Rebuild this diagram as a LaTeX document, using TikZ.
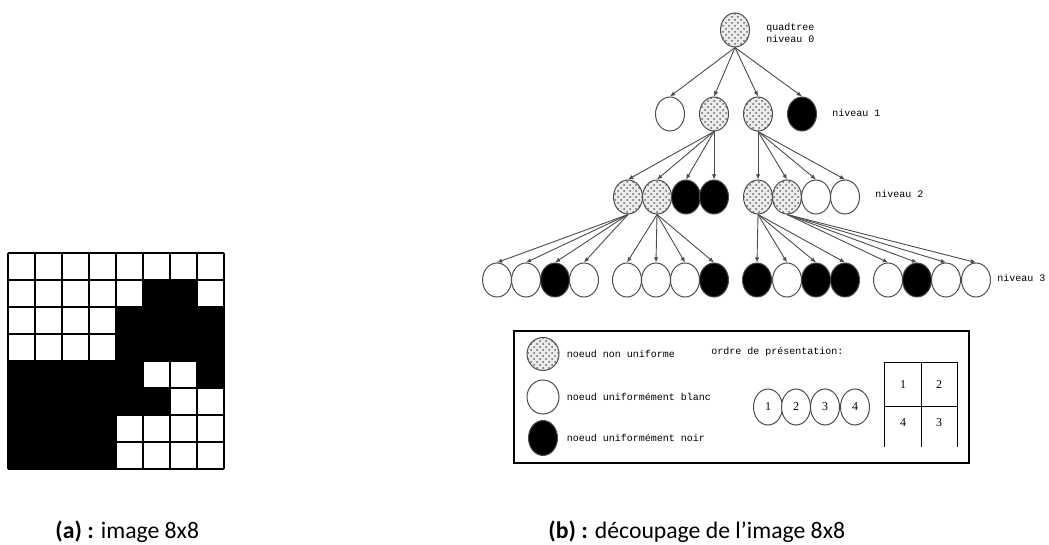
\documentclass[tikz,border=0pt]{standalone}
\usepackage{fontspec}
\setmainfont{Carlito}
\newfontfamily\courfont{Liberation Mono}
\newfontfamily\timesfont{Liberation Serif}
\usetikzlibrary{shapes,arrows,arrows.meta,positioning,patterns}

\begin{document}
\begin{tikzpicture}[x=0.5pt,y=-0.5pt,
      feuille/.style={ellipse,draw=black!70,line width=0.5pt,inner sep=0pt,
        minimum width=14.5pt,minimum height=17pt},
      nonunif/.style={feuille,preaction={fill=gray!15},pattern=crosshatch dots,
        pattern color=black!60},
      blanc/.style={feuille,fill=white},
      noir/.style={feuille,fill=black},
      fleche/.style={-{Latex[length=2.6pt,width=2.2pt]},draw=black!70,line width=0.45pt},
      etiq/.style={font=\courfont\fontsize{5}{6}\selectfont,anchor=west,inner sep=0pt,align=left},
      chiffre/.style={font=\timesfont\fontsize{6}{7}\selectfont,inner sep=0pt},
      legende/.style={font=\fontsize{11.85}{14}\selectfont,anchor=base west,inner sep=0pt}]
      \useasboundingbox (0,0) rectangle (1049,545);

      % (a) image 8x8
      \foreach \ligne [count=\i from 0] in {{0,0,0,0,0,0,0,0},{0,0,0,0,0,1,1,0},
          {0,0,0,0,1,1,1,1},{0,0,0,0,1,1,1,1},{1,1,1,1,1,0,0,1},
          {1,1,1,1,1,1,0,0},{1,1,1,1,0,0,0,0},{1,1,1,1,0,0,0,0}}
        \foreach \v [count=\j from 0] in \ligne {
          \ifnum\v=1 \fill (8+27*\j,253+27*\i) rectangle ++(27,27); \fi
        }
      \foreach \k in {0,...,8} {
        \draw[black,line width=1.1pt] (8+27*\k,253) -- (8+27*\k,469);
        \draw[black,line width=1.1pt] (8,253+27*\k) -- (224,253+27*\k);
      }

      % (b) quadtree
      \node[nonunif] (r) at (735,30) {};
      \node[etiq] (r-lab) at (766,33) {quadtree\\niveau 0};

      \foreach \x/\s [count=\i] in {670/blanc,714/nonunif,758/nonunif,802/noir}
        \node[style=\s] (n\i) at (\x,114) {};
      \foreach \i in {1,...,4}
        \draw[fleche] (r.south) -- (n\i.north);
      \node[etiq] (lab1) at (832,113) {niveau 1};

      \foreach \x/\s [count=\i] in {628/nonunif,657/nonunif,686/noir,714/noir,
          758/nonunif,787/nonunif,816/blanc,845/blanc}
        \node[style=\s] (m\i) at (\x,197) {};
      \foreach \i in {1,...,4}
        \draw[fleche] (n2.south) -- (m\i.north);
      \foreach \i in {5,...,8}
        \draw[fleche] (n3.south) -- (m\i.north);
      \node[etiq] (lab2) at (875,194) {niveau 2};

      \foreach \x/\s [count=\i] in {497/blanc,526/blanc,555/noir,584/blanc,
          627/blanc,656/blanc,685/blanc,714/noir,757/noir,787/blanc,816/noir,845/noir,
          888/blanc,917/noir,946/blanc,976/blanc}
        \node[style=\s] (f\i) at (\x,280) {};
      \foreach \p/\a/\b in {1/1/4,2/5/8,5/9/12,6/13/16}
        \foreach \i in {\a,...,\b}
          \draw[fleche] (m\p.south) -- (f\i.north);
      \node[etiq] (lab3) at (997,278) {niveau 3};

      % legende
      \draw[line width=0.8pt] (514,331) rectangle (969,463);
      \node[nonunif,minimum width=16pt,minimum height=16.5pt] (legA) at (543,354) {};
      \node[etiq,right=3.5pt of legA] (txtA) {noeud non uniforme};
      \node[blanc,minimum width=16pt,minimum height=17pt] (legB) at (543,397) {};
      \node[etiq,right=3.5pt of legB] (txtB) {noeud uniformément blanc};
      \node[noir,minimum width=14.5pt,minimum height=17.5pt] (legC) at (543,438) {};
      \node[etiq,right=4.2pt of legC] (txtC) {noeud uniformément noir};
      \node[etiq] (ordre) at (711,352) {ordre de présentation:};

      \foreach \x [count=\i] in {768,796,825,855}
        \node[blanc,chiffre,minimum width=14.5pt,minimum height=18pt] (o\i) at (\x,407) {\i};
      \draw[line width=0.5pt] (884,447) -- (884,362) -- (957,362) -- (957,447);
      \draw[line width=0.5pt] (921,362) -- (921,447);
      \draw[line width=0.5pt] (884,406) -- (957,406);
      \node[chiffre] (q1) at (903,385) {1};
      \node[chiffre] (q2) at (939,385) {2};
      \node[chiffre] (q4) at (903,423) {4};
      \node[chiffre] (q3) at (939,423) {3};

      % legendes
      \node[legende] (capa) at (55,538) {\textbf{(a) :} image 8x8};
      \node[legende] (capb) at (548,538) {\textbf{(b) :} découpage de l’image 8x8};
    \end{tikzpicture}
\end{document}
